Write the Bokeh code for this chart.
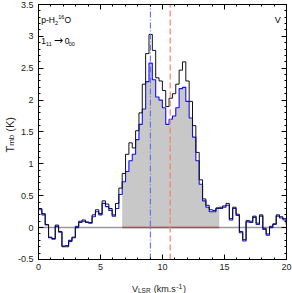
import numpy as np
from bokeh.plotting import figure
from bokeh.models import (Label, LinearAxis, FixedTicker, Range1d, CustomLabelingPolicy)
from bokeh.embed import file_html
from bokeh.resources import INLINE

# ---------------- data ----------------
channel_width = 0.27          # km/s
first_edge = 0.0              # km/s, left edge of first channel

tmb_black = [0.30, 0.22, 0.05, -0.15, -0.17, 0.04, -0.06, -0.30, -0.30, -0.22,
             -0.15, 0.02, 0.10, 0.12, 0.09, 0.08, 0.20, 0.28, 0.22, 0.42,
             0.37, 0.30, 0.20, 0.38, 0.62, 0.85, 1.15, 1.33, 1.25, 1.52,
             1.80, 2.25, 2.73, 3.03, 2.78, 2.35, 2.30, 2.15, 1.90, 2.03,
             2.10, 2.25, 2.47, 2.60, 2.30, 1.98, 1.60, 1.18, 0.75, 0.45,
             0.35, 0.28, 0.27, 0.31, 0.32, 0.34, 0.38, 0.14, 0.32, 0.21,
             -0.06, -0.19, 0.11, 0.10, 0.18, 0.07, 0.20, -0.01, -0.10, 0.02,
             0.06, 0.20, 0.17, 0.14, 0.07]

tmb_blue = [0.28, 0.20, 0.04, -0.16, -0.18, 0.02, -0.07, -0.29, -0.28, -0.20,
            -0.16, 0.00, 0.08, 0.10, 0.08, 0.07, 0.17, 0.25, 0.20, 0.38,
            0.33, 0.27, 0.18, 0.30, 0.52, 0.72, 0.88, 1.05, 1.15, 1.38,
            1.62, 1.86, 2.29, 2.58, 2.32, 2.05, 2.00, 1.88, 1.62, 1.70,
            1.75, 1.88, 2.18, 2.20, 1.98, 1.72, 1.42, 1.05, 0.68, 0.42,
            0.32, 0.25, 0.25, 0.30, 0.30, 0.32, 0.35, 0.12, 0.30, 0.19,
            -0.08, -0.21, 0.09, 0.08, 0.16, 0.05, 0.18, -0.03, -0.12, 0.00,
            0.05, 0.18, 0.15, 0.12, 0.05]

fill_first_channel = 25       # first channel of the shaded window
fill_last_channel = 53        # last channel of the shaded window

v_blue_line = 9.02            # km/s
v_red_line = 10.62            # km/s

x_ticks = [0, 5, 10, 15, 20]
x_minor_ticks = list(range(0, 21))
y_ticks = [-0.5, 0, 0.5, 1, 1.5, 2, 2.5, 3, 3.5]
y_tick_labels = ["-0.5", "0", "0.5", "1", "1.5", "2", "2.5", "3", "3.5"]
y_minor_ticks = [round(-0.5 + 0.1 * i, 2) for i in range(41)]

xmin, xmax = x_ticks[0], x_ticks[-1]
ymin, ymax = y_ticks[0], y_ticks[-1]

# ---------------- derived step arrays ----------------
n = len(tmb_black)
edges = np.clip(first_edge + channel_width * np.arange(n + 1), xmin, xmax)
y_black = tmb_black + [tmb_black[-1]]
y_blue = tmb_blue + [tmb_blue[-1]]
fx = edges[fill_first_channel:fill_last_channel + 2]
fy = tmb_blue[fill_first_channel:fill_last_channel + 1] + [tmb_blue[fill_last_channel]]

FONT = "Liberation Sans"

# The frame covers the whole canvas; the box [0,20]x[-0.5,3.5] is drawn by
# four axes placed at fixed locations, so that outer texts are not clipped.
p = figure(width=292, height=293,
           x_range=Range1d(-3.065, 20.484), y_range=Range1d(-1.0334, 3.5627),
           output_backend="svg", toolbar_location=None,
           x_axis_location=None, y_axis_location=None,
           min_border_left=0, min_border_right=0, min_border_top=0, min_border_bottom=0)
p.grid.visible = False
p.outline_line_color = None
p.background_fill_color = "white"
p.border_fill_color = "white"

# shaded window under the blue spectrum
p.varea_step(x=fx, y1=[0] * len(fx), y2=fy, step_mode="after",
             fill_color="#c8c8c8", fill_alpha=1.0)

# zero lines
p.line(x=[xmin, xmax], y=[0, 0], line_color="#9a9a9a", line_width=1.5)
p.line(x=[edges[fill_first_channel], edges[fill_last_channel + 1]], y=[0, 0],
       line_color="#9a5a5a", line_width=1.5)

# spectra
p.step(x=edges, y=y_blue, mode="after", line_color="#1010ff", line_width=1.1)
p.step(x=edges, y=y_black, mode="after", line_color="#111111", line_width=1.0)

# velocity markers
p.line(x=[v_blue_line, v_blue_line], y=[ymin, ymax], line_color="#5a5aff",
       line_width=1.0, line_dash="6 2 1 2")
p.line(x=[v_red_line, v_red_line], y=[ymin, ymax], line_color="#ff7a7a",
       line_width=1.2, line_dash="6 3")

# ---------------- axes ----------------
hide_labels = CustomLabelingPolicy(code="""
for (const i of indices) { indices.unset(i) }
return indices
""")

def style_axis(ax, labels=True):
    ax.axis_line_color = "black"
    ax.axis_line_width = 1
    ax.major_tick_line_color = "black"
    ax.minor_tick_line_color = "black"
    ax.major_tick_in = 5
    ax.major_tick_out = 0
    ax.minor_tick_in = 2
    ax.minor_tick_out = 0
    ax.major_label_text_font = FONT
    ax.major_label_text_color = "#222222"
    ax.major_label_text_font_size = "9px"
    ax.major_label_standoff = 5
    if not labels:
        ax.major_label_policy = hide_labels

bottom = LinearAxis(fixed_location=ymin, bounds=(xmin, xmax),
                    ticker=FixedTicker(ticks=x_ticks, minor_ticks=x_minor_ticks))
top = LinearAxis(fixed_location=ymax, bounds=(xmin, xmax),
                 ticker=FixedTicker(ticks=x_ticks, minor_ticks=x_minor_ticks))
left = LinearAxis(fixed_location=xmin, bounds=(ymin, ymax),
                  ticker=FixedTicker(ticks=y_ticks, minor_ticks=y_minor_ticks))
right = LinearAxis(fixed_location=xmax, bounds=(ymin, ymax),
                   ticker=FixedTicker(ticks=y_ticks, minor_ticks=y_minor_ticks))
left.major_label_overrides = {float(t): s for t, s in zip(y_ticks, y_tick_labels)}
style_axis(bottom)
style_axis(left)
style_axis(top, labels=False)
style_axis(right, labels=False)
p.add_layout(bottom, "below")
p.add_layout(left, "left")
p.add_layout(top, "above")
p.add_layout(right, "right")

# ---------------- texts ----------------
def lab(x, y, text, size, angle=0.0, color="black", font=FONT):
    p.add_layout(Label(x=x, y=y, text=text, text_font=font, text_font_size=size,
                       text_color=color, text_align="left", text_baseline="alphabetic",
                       angle=angle))

# species
lab(0.22, 3.25, "p-H", "8.5px")
lab(1.34, 3.21, "2", "5.5px")
lab(1.59, 3.306, "16", "5.5px")
lab(2.09, 3.25, "O", "8.5px")
# transition
lab(0.22, 2.92, "1", "8.5px")
lab(0.61, 2.88, "11", "5.5px")
lab(1.23, 2.94, "\u2192", "11px", font="DejaVu Sans")
lab(2.12, 2.92, "0", "8.5px")
lab(2.44, 2.88, "00", "5.5px")
# panel tag
lab(19.06, 3.26, "V", "9px")

# x axis label
lab(7.54, -0.963, "V", "9px", color="#222222")
lab(8.02, -0.982, "LSR", "6.5px", color="#222222")
lab(9.30, -0.963, "(km.s", "9px", color="#222222")
lab(11.10, -0.916, "-1", "7px", color="#222222")
lab(11.66, -0.963, ")", "9px", color="#222222")

# y axis label (rotated)
a = np.pi / 2
lab(-2.339, 1.178, "T", "11px", angle=a, color="#222222")
lab(-2.138, 1.283, "mb", "8px", angle=a, color="#222222")
lab(-2.339, 1.505, "(K)", "11px", angle=a, color="#222222")

open("out.html", "w").write(file_html(p, INLINE))
